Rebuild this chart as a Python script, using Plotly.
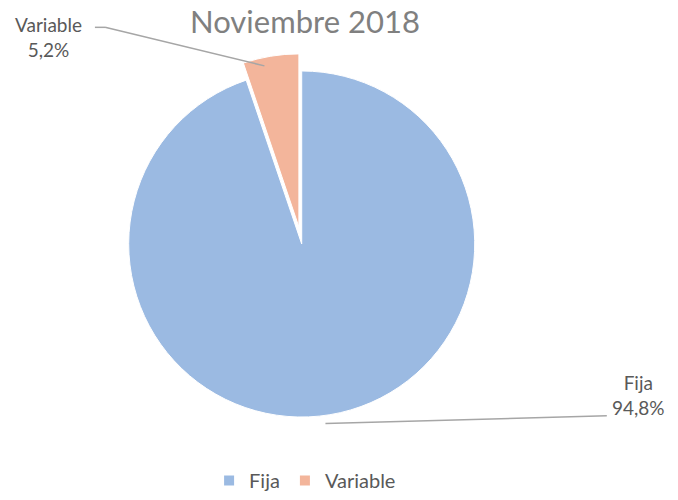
import plotly.graph_objects as go

labels = ["Fija", "Variable"]
values = [94.8, 5.2]
pct_text = ["94,8%", "5,2%"]
colors = ["#9bbae2", "#f3b59b"]
title_text = "Noviembre 2018"

W, H = 678, 500
font_family = "Lato, 'Open Sans', sans-serif"

fig = go.Figure()
fig.add_trace(go.Pie(
    labels=labels,
    values=values,
    sort=False,
    direction="clockwise",
    rotation=0,
    pull=[0, 0.1],
    marker=dict(colors=colors, line=dict(color="white", width=1)),
    textinfo="none",
    hoverinfo="label+percent",
    domain=dict(x=[0.15, 0.74], y=[0.11, 0.89]),
    showlegend=True,
))

fig.update_layout(
    width=W, height=H,
    margin=dict(l=0, r=0, t=0, b=0),
    paper_bgcolor="white",
    plot_bgcolor="white",
    font=dict(family=font_family, color="#595959"),
    separators=",.",
    legend=dict(
        orientation="h",
        x=0.45, xanchor="center",
        y=-0.025, yanchor="bottom",
        font=dict(size=20, color="#595959"),
        itemsizing="constant",
        traceorder="normal",
    ),
    annotations=[
        dict(text=title_text, x=0.45, y=1.0, xref="paper", yref="paper",
             xanchor="center", yanchor="top", showarrow=False,
             font=dict(size=31, color="#808080", family=font_family)),
        dict(text=f"{labels[1]}<br>{pct_text[1]}", x=0.072, y=0.925,
             xref="paper", yref="paper", xanchor="center", yanchor="middle",
             showarrow=False, align="center",
             font=dict(size=19, color="#595959")),
        dict(text=f"{labels[0]}<br>{pct_text[0]}", x=0.942, y=0.19,
             xref="paper", yref="paper", xanchor="center", yanchor="middle",
             showarrow=False, align="center",
             font=dict(size=19, color="#595959")),
    ],
    shapes=[
        dict(type="line", xref="paper", yref="paper",
             x0=0.14, y0=0.944, x1=0.155, y1=0.944,
             line=dict(color="#a6a6a6", width=1.5)),
        dict(type="line", xref="paper", yref="paper",
             x0=0.155, y0=0.944, x1=0.39, y1=0.865,
             line=dict(color="#a6a6a6", width=1.5)),
        dict(type="line", xref="paper", yref="paper",
             x0=0.48, y0=0.132, x1=0.895, y1=0.148,
             line=dict(color="#a6a6a6", width=1.5)),
    ],
)

fig.write_html("out.html")
